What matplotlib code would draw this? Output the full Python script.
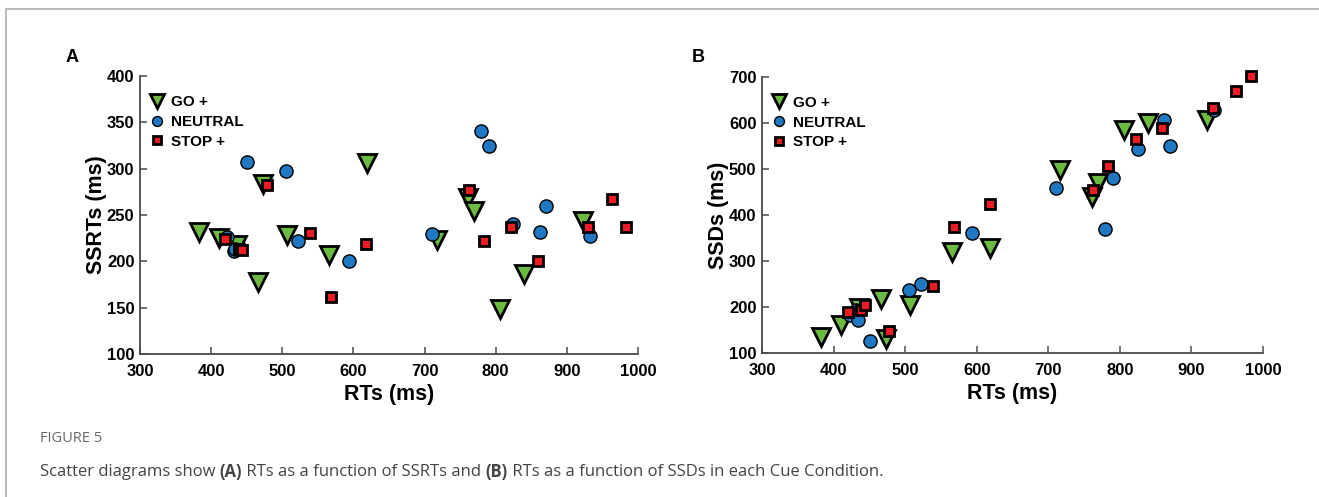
import numpy as np
import matplotlib
matplotlib.use('Agg')
import matplotlib.pyplot as plt
from matplotlib.lines import Line2D

# RTs (ms) per subject, SSRTs (panel A) and SSDs (panel B)
go_rt    = [383, 411, 436, 466, 473, 507, 566, 619, 717, 761, 770, 806, 840, 922]
go_ssrt  = [232, 225, 218, 178, 284, 228, 207, 306, 223, 268, 254, 149, 186, 244]
go_ssd   = [135, 160, 198, 218, 131, 204, 320, 327, 497, 439, 470, 584, 600, 607]

neu_rt   = [423, 432, 434, 451, 505, 522, 594, 711, 780, 791, 825, 862, 870, 932]
neu_ssrt = [226, 211, 213, 307, 298, 222, 200, 229, 341, 325, 240, 232, 260, 227]
neu_ssd  = [182, 193, 171, 126, 236, 249, 361, 458, 370, 479, 544, 606, 549, 628]

stop_rt   = [420, 439, 444, 478, 539, 569, 618, 762, 783, 822, 859, 930, 963, 983]
stop_ssrt = [224, 213, 212, 282, 231, 162, 219, 277, 222, 237, 200, 237, 267, 237]
stop_ssd  = [189, 193, 204, 148, 245, 374, 423, 454, 507, 564, 589, 633, 669, 701]

labels = ['GO +', 'NEUTRAL', 'STOP +']
green = '#6cbb40'
blue = '#1f78c1'
red = '#ed1c24'

plt.rcParams['font.family'] = ['Liberation Sans', 'DejaVu Sans']

fig = plt.figure(figsize=(13.19, 4.97), dpi=100)
axA = fig.add_axes([0.1061, 0.2877, 0.3776, 0.5593])
axB = fig.add_axes([0.5777, 0.2897, 0.3798, 0.5560])

def panel(ax, go_y, neu_y, stop_y, ylim, yticks, ylabel):
    ax.plot(go_rt, go_y, 'v', ms=12.5, mfc=green, mec='black', mew=2, ls='none',
            label=labels[0], zorder=3, clip_on=False)
    ax.plot(neu_rt, neu_y, 'o', ms=9.5, mfc=blue, mec='black', mew=1, ls='none',
            label=labels[1], zorder=3, clip_on=False)
    ax.plot(stop_rt, stop_y, 's', ms=7, mfc=red, mec='black', mew=2, ls='none',
            label=labels[2], zorder=3, clip_on=False)
    ax.set_xlim(300, 1000)
    ax.set_ylim(*ylim)
    ax.set_xticks(range(300, 1001, 100))
    ax.set_yticks(yticks)
    for s in ['top', 'right']:
        ax.spines[s].set_visible(False)
    for s in ['left', 'bottom']:
        ax.spines[s].set_color('#4a4a4a')
        ax.spines[s].set_linewidth(1.3)
    ax.tick_params(direction='in', length=5, width=1.1, color='#4a4a4a', labelsize=12)
    ax.tick_params(axis='x', pad=7)
    ax.tick_params(axis='y', pad=4)
    for t in ax.get_xticklabels() + ax.get_yticklabels():
        t.set_fontweight('bold')
    ax.set_xlabel('RTs (ms)', fontsize=15.5, fontweight='bold', labelpad=4)
    ax.set_ylabel(ylabel, fontsize=15.5, fontweight='bold', labelpad=0)
    ax.legend(loc='upper left', frameon=False, markerscale=0.75, handlelength=0.6,
              handletextpad=0.6, labelspacing=0.38, borderaxespad=0.4,
              bbox_to_anchor=(0.0, 0.975), prop={'weight': 'bold', 'size': 11})

panel(axA, go_ssrt, neu_ssrt, stop_ssrt, (100, 400), range(100, 401, 50), 'SSRTs (ms)')
panel(axB, go_ssd, neu_ssd, stop_ssd, (100, 700), range(100, 701, 100), 'SSDs (ms)')

fig.text(72/1319, 1 - 58/497, 'A', fontsize=13, fontweight='bold', va='center', ha='center')
fig.text(698/1319, 1 - 58/497, 'B', fontsize=13, fontweight='bold', va='center', ha='center')

# frame around the figure
fig.add_artist(Line2D([6/1319, 6/1319], [0, 1 - 9/497], color='#bbbbbb', lw=1.5))
fig.add_artist(Line2D([6/1319, 1], [1 - 9/497, 1 - 9/497], color='#bbbbbb', lw=1.5))

# caption
fig.text(40/1319, 1 - 439/497, 'FIGURE 5', fontsize=10.5, color='#666666',
         family=['Open Sans', 'DejaVu Sans'], va='center')
parts = [('Scatter diagrams show ', 'normal'), ('(A)', 'bold'),
         (' RTs as a function of SSRTs and ', 'normal'), ('(B)', 'bold'),
         (' RTs as a function of SSDs in each Cue Condition.', 'normal')]
fig.canvas.draw()
r = fig.canvas.get_renderer()
x = 40
for txt, w in parts:
    t = fig.text(x/1319, 1 - 472/497, txt, fontsize=12, color='#444444', fontweight=w,
                 family=['Open Sans', 'DejaVu Sans'], va='center')
    x = t.get_window_extent(r).x1

fig.savefig('out.png', dpi=100)
